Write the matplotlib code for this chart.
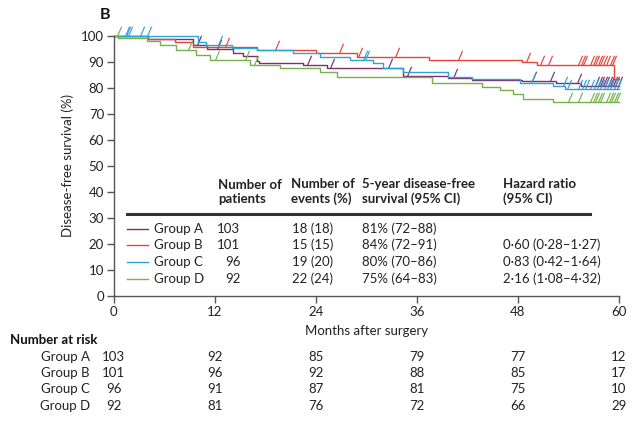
import numpy as np
import matplotlib.pyplot as plt
from matplotlib.path import Path

plt.rcParams['font.family'] = ['Lato', 'DejaVu Sans']

groups = ["Group A", "Group B", "Group C", "Group D"]
colors = ["#7e2f6c", "#e5453b", "#2ea4d6", "#74b24c"]

# Kaplan-Meier steps (months, % disease-free)
a_t = [0, 4, 9.4, 11.1, 14.2, 15.4, 17, 17.3, 22.5, 25.3, 34.3, 39.7, 42.5, 48.5, 52.5, 55.5, 60]
a_s = [100, 98.8, 96.5, 94.9, 93.6, 92.3, 90.4, 89.5, 88.8, 87.6, 84.6, 83.7, 83.0, 82.7, 81.8, 80.8, 80.8]
b_t = [0, 4, 7.3, 9.4, 17, 24, 28.9, 37.5, 48.5, 50.3, 59.4, 60]
b_s = [100, 98.8, 97.8, 95.9, 94.6, 93.3, 91.8, 90.8, 89.9, 88.8, 83.5, 83.5]
c_t = [0, 10, 11, 14, 17, 21.3, 24.5, 28, 30.8, 32, 34.3, 39.7, 42.6, 48.2, 52.2, 53.6, 60]
c_s = [100, 97.8, 96.5, 95.5, 94.6, 93.3, 92.0, 90.8, 89.5, 87.6, 86.3, 84.4, 83.3, 82.0, 80.6, 79.6, 79.6]
d_t = [0, 0.5, 3.9, 5.5, 7.4, 9.8, 11.4, 16.2, 19.7, 24.5, 26.5, 37.8, 43.8, 45.9, 47.4, 48.6, 52.2, 60]
d_s = [100, 99.1, 98.0, 96.5, 94.6, 92.7, 90.8, 88.8, 87.7, 86.3, 84.4, 81.8, 80.5, 79.2, 77.6, 75.8, 74.7, 74.7]

# censoring times
a_cens = [9.9, 12.2, 22.9, 25.7, 32.6, 34.8, 40.3, 49.7, 51.8, 55, 57.2, 57.5, 57.8, 58.1, 58.4, 58.7, 59, 59.3, 59.6, 59.9]
b_cens = [13.2, 19.1, 26.8, 29, 33.4, 40.9, 49, 50.6, 51.6, 55.2, 55.5, 55.8, 56.6, 56.9, 57.2, 57.5, 57.8, 58.1, 58.5, 58.9, 59.2]
c_cens = [1.3, 1.5, 1.7, 3.1, 3.9, 12.4, 29.6, 29.9, 49.6, 53.4, 53.8, 55.2, 55.6, 56, 56.6, 57, 57.4, 57.8, 58.2, 58.6, 59, 59.4, 59.8]
d_cens = [0.4, 8.8, 12, 15.6, 16.6, 54, 55.1, 56.6, 56.9, 57.2, 57.5, 57.8, 58.5, 58.8, 59.1, 59.4, 59.7]

steps = [(a_t, a_s, a_cens), (b_t, b_s, b_cens), (c_t, c_s, c_cens), (d_t, d_s, d_cens)]

# table in the plot
n_patients = ["103", "101", "96", "92"]
n_events = ["18 (18)", "15 (15)", "19 (20)", "22 (24)"]
dfs_5yr = ["81% (72–88)", "84% (72–91)", "80% (70–86)", "75% (64–83)"]
hazard = ["", "0·60 (0·28–1·27)", "0·83 (0·42–1·64)", "2·16 (1·08–4·32)"]

# number at risk
risk_months = [0, 12, 24, 36, 48, 60]
risk_a = [103, 92, 85, 79, 77, 12]
risk_b = [101, 96, 92, 88, 85, 17]
risk_c = [96, 91, 87, 81, 75, 10]
risk_d = [92, 81, 76, 72, 66, 29]
risks = [risk_a, risk_b, risk_c, risk_d]

slash = Path([(0, 0), (0.42, 1)], [Path.MOVETO, Path.LINETO])

fig = plt.figure(figsize=(6.36, 4.22), dpi=100)
ax = fig.add_axes([0.179, 0.2986, 0.794, 0.6161])

for (t, s, cens), col in zip(steps, colors):
    ax.step(t, s, where='post', color=col, lw=1.0, clip_on=False)
    idx = np.searchsorted(t, cens, side='right') - 1
    ys = np.array(s)[idx]
    ax.plot(cens, ys, ls='none', marker=slash, ms=14, mec=col, mew=0.85, clip_on=False)

ax.set_xlim(0, 60)
ax.set_ylim(0, 100)
ax.set_xticks(risk_months)
ax.set_yticks(np.arange(0, 101, 10))
for side in ['top', 'right']:
    ax.spines[side].set_visible(False)
for side in ['left', 'bottom']:
    ax.spines[side].set_color('#555555')
    ax.spines[side].set_linewidth(1.0)
ax.tick_params(length=5, width=1, color='#555555', labelsize=9.5, labelcolor='#222222', pad=2)
ax.set_ylabel("Disease-free survival (%)", fontsize=9.5, color='#222222', labelpad=5)
ax.set_xlabel("Months after surgery", fontsize=9.5, color='#222222', labelpad=5)

fig.text(0.157, 0.955, "B", fontsize=11.5, fontweight='bold', color='#111111')

# table headers
hy = 0.515
hdr = dict(transform=fig.transFigure, fontsize=9.5, fontweight='bold', color='#222222',
           va='bottom', linespacing=1.15)
fig.text(0.343, hy, "Number of\npatients", **hdr)
fig.text(0.457, hy, "Number of\nevents (%)", **hdr)
fig.text(0.569, hy, "5-year disease-free\nsurvival (95% CI)", **hdr)
fig.text(0.791, hy, "Hazard ratio\n(95% CI)", **hdr)
fig.add_artist(plt.Line2D([0.2, 0.928], [0.492, 0.492], color='#333333', lw=2.2,
                          transform=fig.transFigure))

row_y = [0.457, 0.419, 0.379, 0.339]
cell = dict(transform=fig.transFigure, fontsize=9.5, color='#222222', va='center')
for i, g in enumerate(groups):
    y = row_y[i]
    fig.add_artist(plt.Line2D([0.2, 0.232], [y, y], color=colors[i], lw=1.0,
                              transform=fig.transFigure))
    fig.text(0.242, y, g, **cell)
    fig.text(0.378, y, n_patients[i], ha='right', **cell)
    fig.text(0.459, y, n_events[i], **cell)
    fig.text(0.569, y, dfs_5yr[i], **cell)
    fig.text(0.791, y, hazard[i], **cell)

# number at risk
fig.text(0.015, 0.195, "Number at risk", fontsize=9.5, fontweight='bold', color='#111111', va='center')
risk_y = [0.154, 0.116, 0.078, 0.038]
for i, g in enumerate(groups):
    y = risk_y[i]
    fig.text(0.141, y, g, ha='right', va='center', fontsize=9.5, color='#222222')
    for m, n in zip(risk_months, risks[i]):
        xf = 0.179 + 0.794 * m / 60
        fig.text(xf, y, str(n), ha='center', va='center', fontsize=9.5, color='#222222')

fig.savefig("out.png", dpi=100)
